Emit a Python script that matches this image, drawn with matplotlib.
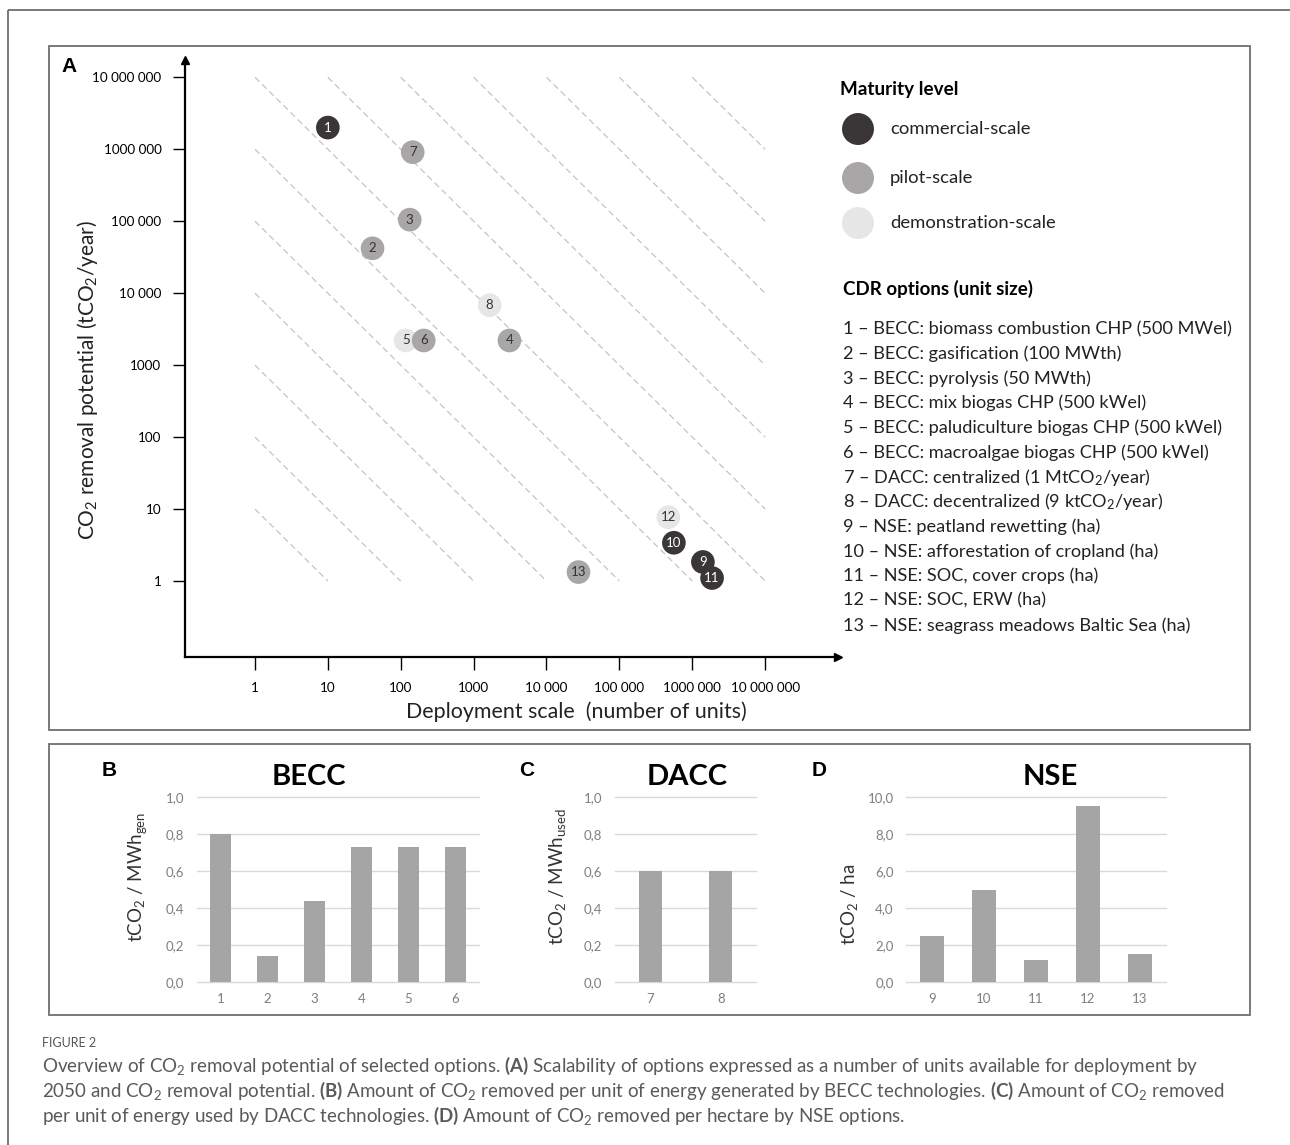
# plot.py - CO2 removal overview (panel A bubble map + B/C/D bar panels)

import matplotlib.pyplot as plt
from matplotlib.patches import Rectangle
from matplotlib.ticker import NullLocator, FuncFormatter

plt.rcParams['font.family'] = ['Lato', 'DejaVu Sans']
plt.rcParams['mathtext.fontset'] = 'custom'
plt.rcParams['mathtext.rm'] = 'Lato'
plt.rcParams['mathtext.it'] = 'Lato:italic'
plt.rcParams['mathtext.bf'] = 'Lato:bold'

W, H = 1290, 1145

# colours
C_COMM = "#3a3637"
C_PILOT = "#a9a6a7"
C_DEMO = "#e6e6e6"
C_FRAME = "#6e6e6e"
C_BAR = "#a5a5a5"
C_GRID = "#d9d9d9"
C_TICK = "#7f7f7f"
C_ISO = "#c4c4c4"
MATURITY_COLOR = {"commercial": C_COMM, "pilot": C_PILOT, "demo": C_DEMO}

# ── data: panel A ────────────────────────────────────────
option_ids = ["1", "2", "3", "4", "5", "6", "7", "8", "9", "10", "11", "12", "13"]
deployment_units = [10, 41, 133, 3100, 117, 207, 146, 1660, 1.4e6, 5.6e5, 1.87e6, 4.7e5, 2.75e4]
removal_potential = [2.0e6, 4.2e4, 1.05e5, 2200, 2200, 2200, 9.1e5, 6800, 1.84, 3.4, 1.1, 7.7, 1.33]
maturity = ["commercial", "pilot", "pilot", "pilot", "demo", "pilot", "pilot", "demo",
            "commercial", "commercial", "commercial", "demo", "pilot"]

decade_ticks = [1, 10, 100, 1000, 1e4, 1e5, 1e6, 1e7]
decade_labels = ["1", "10", "100", "1000", "10 000", "100 000", "1000 000", "10 000 000"]
iso_exponents = list(range(1, 14))   # x*y = 10^k guide lines

legend_levels = ["commercial", "pilot", "demo"]
legend_names = ["commercial-scale", "pilot-scale", "demonstration-scale"]

cdr_options = [
    "1 – BECC: biomass combustion CHP (500 MWel)",
    "2 – BECC: gasification (100 MWth)",
    "3 – BECC: pyrolysis (50 MWth)",
    "4 – BECC: mix biogas CHP (500 kWel)",
    "5 – BECC: paludiculture biogas CHP (500 kWel)",
    "6 – BECC: macroalgae biogas CHP (500 kWel)",
    "7 – DACC: centralized (1 MtCO$_2$/year)",
    "8 – DACC: decentralized (9 ktCO$_2$/year)",
    "9 – NSE: peatland rewetting (ha)",
    "10 – NSE: afforestation of cropland (ha)",
    "11 – NSE: SOC, cover crops (ha)",
    "12 – NSE: SOC, ERW (ha)",
    "13 – NSE: seagrass meadows Baltic Sea (ha)",
]

# ── data: panels B, C, D ─────────────────────────────────
becc_ids = ["1", "2", "3", "4", "5", "6"]
becc_vals = [0.80, 0.14, 0.44, 0.73, 0.73, 0.73]
dacc_ids = ["7", "8"]
dacc_vals = [0.60, 0.60]
nse_ids = ["9", "10", "11", "12", "13"]
nse_vals = [2.5, 5.0, 1.2, 9.5, 1.5]

caption_lines = [
    r"Overview of CO$_2$ removal potential of selected options. $\mathbf{(A)}$ Scalability of options expressed as a number of units available for deployment by",
    r"2050 and CO$_2$ removal potential. $\mathbf{(B)}$ Amount of CO$_2$ removed per unit of energy generated by BECC technologies. $\mathbf{(C)}$ Amount of CO$_2$ removed",
    r"per unit of energy used by DACC technologies. $\mathbf{(D)}$ Amount of CO$_2$ removed per hectare by NSE options.",
]


fig = plt.figure(figsize=(W / 100, H / 100), dpi=100)


def px_axes(x0, y0, x1, y1):
    """axes placed in pixel coords (origin top-left)"""
    return fig.add_axes([x0 / W, 1 - y1 / H, (x1 - x0) / W, (y1 - y0) / H])


# background layer for frames and free text
bg = fig.add_axes([0, 0, 1, 1])
bg.set_xlim(0, W)
bg.set_ylim(H, 0)
bg.axis("off")

bg.add_patch(Rectangle((8, 10), W, H, fill=False, edgecolor=C_FRAME, lw=1.3))
bg.add_patch(Rectangle((49, 46), 1201, 684, fill=False, edgecolor=C_FRAME, lw=1.3))
bg.add_patch(Rectangle((49, 744), 1201, 271, fill=False, edgecolor=C_FRAME, lw=1.3))

# ══════════════════════════════════════════════════════
# Panel A
# ══════════════════════════════════════════════════════
axA = px_axes(185, 60, 838, 657)
axA.set_xscale("log")
axA.set_yscale("log")
axA.set_xlim(10 ** -0.96, 1e8)
axA.set_ylim(10 ** -1.056, 10 ** 7.24)
axA.patch.set_alpha(0)
for s in ["top", "right"]:
    axA.spines[s].set_visible(False)
for s in ["left", "bottom"]:
    axA.spines[s].set_linewidth(1.6)
    axA.spines[s].set_color("black")
axA.set_xticks(decade_ticks, decade_labels)
axA.set_yticks(decade_ticks, decade_labels)
axA.xaxis.set_minor_locator(NullLocator())
axA.yaxis.set_minor_locator(NullLocator())
axA.tick_params(axis="both", length=9, width=1, labelsize=9.7, pad=8, colors="black")
axA.tick_params(axis="x", pad=9)

# arrow heads
axA.plot(1, 0, marker=">", color="black", ms=6, transform=axA.transAxes, clip_on=False)
axA.plot(0, 1, marker="^", color="black", ms=6, transform=axA.transAxes, clip_on=False)

# iso-product guide lines
for k in iso_exponents:
    p = 10.0 ** k
    xa, xb = max(1, p / 1e7), min(1e7, p)
    axA.plot([xa, xb], [p / xa, p / xb], ls=(0, (5, 3)), color=C_ISO, lw=0.9, zorder=1)

# bubbles
for i, (lab, xv, yv, m) in enumerate(zip(option_ids, deployment_units, removal_potential, maturity)):
    axA.scatter([xv], [yv], s=290, color=MATURITY_COLOR[m], edgecolors="none", zorder=3 + i)
    axA.text(xv, yv, lab, ha="center", va="center", fontsize=9.5,
             color="white" if m == "commercial" else "#333333", zorder=3.5 + i)

bg.text(88, 380, r"CO$_2$ removal potential (tCO$_2$/year)", rotation=90,
        ha="center", va="center", fontsize=15, color="#222222")
bg.text(576, 712, "Deployment scale  (number of units)", ha="center", va="center",
        fontsize=15.4, color="#222222")
bg.text(69, 67, "A", ha="center", va="center", fontsize=15, fontweight="bold",
        family="Liberation Sans")

# legend
bg.text(840, 89, "Maturity level", ha="left", va="center", fontsize=13.6, fontweight="bold")
for j, (lev, name) in enumerate(zip(legend_levels, legend_names)):
    yy = [129, 178, 223][j]
    bg.scatter([858], [yy], s=530, color=MATURITY_COLOR[lev], edgecolors="none")
    bg.text(890, yy, name, ha="left", va="center", fontsize=13.3, color="#222222")

bg.text(843, 289, "CDR options (unit size)", ha="left", va="center", fontsize=13.5,
        fontweight="bold")
for j, line in enumerate(cdr_options):
    bg.text(843, 329 + 24.7 * j, line, ha="left", va="center", fontsize=13.1, color="#222222")

# ══════════════════════════════════════════════════════
# Panels B, C, D
# ══════════════════════════════════════════════════════
def bar_panel(box, cats, vals, ymax, step, width):
    ax = px_axes(*box)
    ax.bar(cats, vals, width=width, color=C_BAR, zorder=2)
    ax.set_xlim(-0.5, len(cats) - 0.5)
    ax.set_ylim(0, ymax)
    ticks = [step * i for i in range(int(round(ymax / step)) + 1)]
    ax.set_yticks(ticks)
    for t in ticks:
        ax.axhline(t, color=C_GRID, lw=1, zorder=0, clip_on=False)
    ax.yaxis.set_major_formatter(FuncFormatter(lambda v, _: f"{v:.1f}".replace(".", ",")))
    for s in ax.spines.values():
        s.set_visible(False)
    ax.tick_params(axis="both", length=0, labelsize=9.5, labelcolor=C_TICK)
    ax.tick_params(axis="y", pad=9)
    ax.tick_params(axis="x", pad=8)
    ax.patch.set_alpha(0)
    return ax


bar_panel((197, 797, 479, 982), becc_ids, becc_vals, 1.0, 0.2, 0.44)
bar_panel((615, 797, 756, 982), dacc_ids, dacc_vals, 1.0, 0.2, 0.33)
bar_panel((906, 797, 1166, 982), nse_ids, nse_vals, 10.0, 2.0, 0.45)

for txt, x in [("BECC", 309), ("DACC", 687), ("NSE", 1050)]:
    bg.text(x, 777, txt, ha="center", va="center", fontsize=21, fontweight="bold")
for txt, x in [("B", 109), ("C", 527), ("D", 819)]:
    bg.text(x, 771, txt, ha="center", va="center", fontsize=15, fontweight="bold",
            family="Liberation Sans")

bg.text(138, 877, r"tCO$_2$ / MWh$_{\mathrm{gen}}$", rotation=90, ha="center", va="center",
        fontsize=13.5, color="#333333")
bg.text(558, 877, r"tCO$_2$ / MWh$_{\mathrm{used}}$", rotation=90, ha="center", va="center",
        fontsize=13.5, color="#333333")
bg.text(849, 904, r"tCO$_2$ / ha", rotation=90, ha="center", va="center",
        fontsize=13.5, color="#333333")

# ── caption ──────────────────────────────────────────────
bg.text(42, 1043, "FIGURE 2", ha="left", va="center", fontsize=9, color="#555555")
for j, line in enumerate(caption_lines):
    bg.text(42, 1066 + 25 * j, line, ha="left", va="center", fontsize=13.5, color="#5a5a5a")

fig.savefig("out.png", dpi=100, facecolor="white")
